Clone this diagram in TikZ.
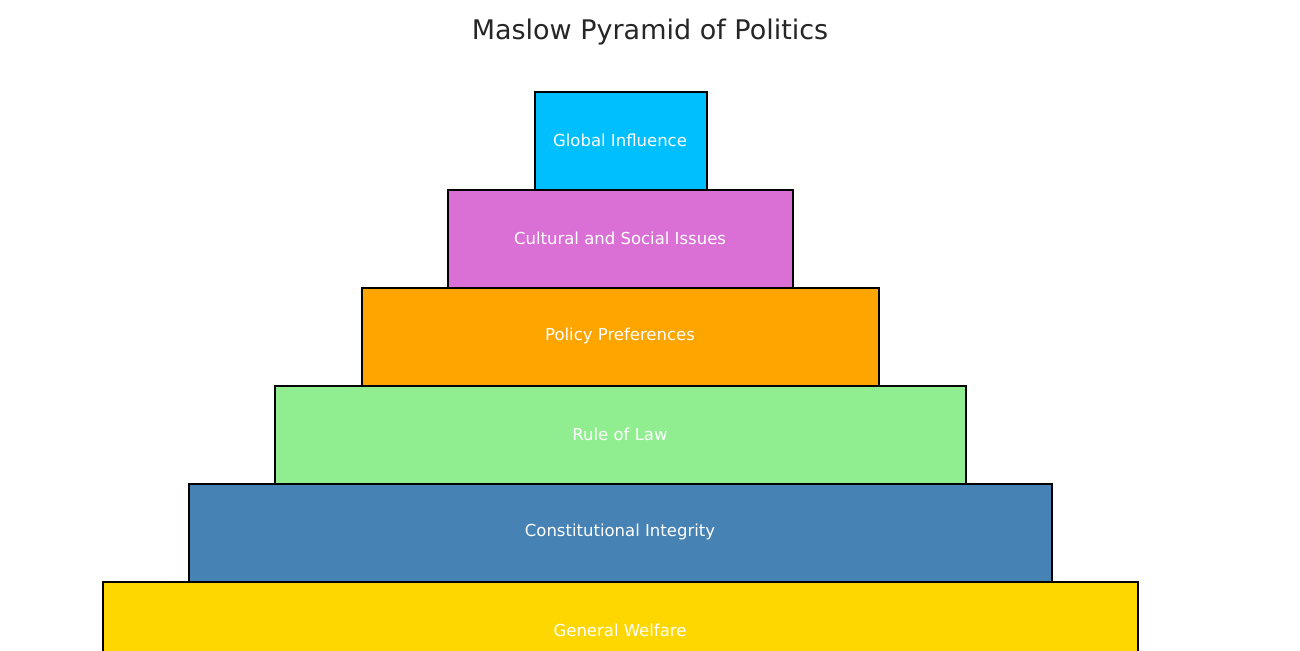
\documentclass[tikz,border=0pt]{standalone}
\usepackage{fontspec}
\setmainfont{DejaVu Sans}
\definecolor{c1}{HTML}{00BFFF}
\definecolor{c2}{HTML}{DA70D6}
\definecolor{c3}{HTML}{FFA500}
\definecolor{c4}{HTML}{90EE90}
\definecolor{c5}{HTML}{4682B4}
\definecolor{c6}{HTML}{FFD700}
\definecolor{tt}{HTML}{262626}
\begin{document}
\begin{tikzpicture}[x=1pt,y=-1pt,
  layer/.style={draw=black,line width=1.5pt},
  lab/.style={text=white,font=\fontsize{16.5}{18}\selectfont}]
\useasboundingbox (0,0) rectangle (1300,650);
\clip (0,0) rectangle (1300,650);
\fill[white] (0,0) rectangle (1300,650);
\node[text=tt,font=\fontsize{27}{30}\selectfont] (title) at (650,32) {Maslow Pyramid of Politics};
\draw[layer,fill=c6] (103,582) rectangle (1138,690);
\draw[layer,fill=c5] (189,484) rectangle (1052,582);
\draw[layer,fill=c4] (275,386) rectangle (966,484);
\draw[layer,fill=c3] (362,288) rectangle (879,386);
\draw[layer,fill=c2] (448,190) rectangle (793,288);
\draw[layer,fill=c1] (535,92) rectangle (707,190);
\node[lab] (l1) at (620,140) {Global Influence};
\node[lab] (l2) at (620,238) {Cultural and Social Issues};
\node[lab] (l3) at (620,336) {Policy Preferences};
\node[lab] (l4) at (620,434) {Rule of Law};
\node[lab] (l5) at (620,532) {Constitutional Integrity};
\node[lab] (l6) at (620,630) {General Welfare};
\end{tikzpicture}
\end{document}
